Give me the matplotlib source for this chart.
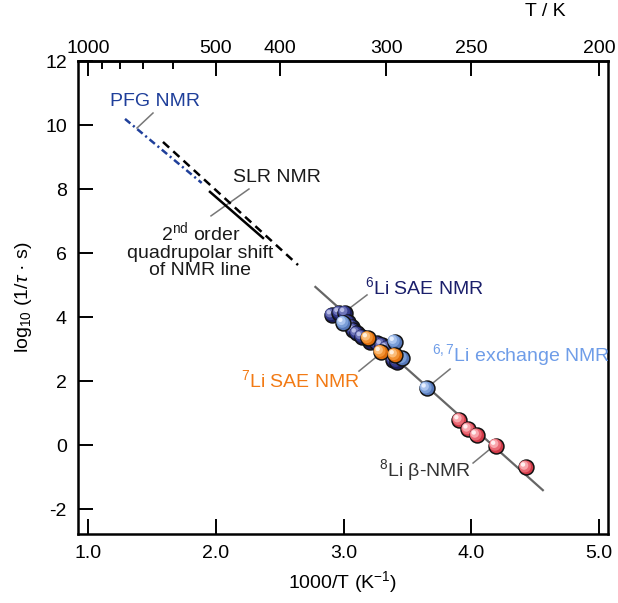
import numpy as np
import matplotlib
matplotlib.use('Agg')
import matplotlib.pyplot as plt
from matplotlib.ticker import FixedLocator
from matplotlib.transforms import offset_copy

plt.rcParams['font.family'] = ['Liberation Sans', 'DejaVu Sans']
plt.rcParams['mathtext.fontset'] = 'custom'
plt.rcParams['mathtext.rm'] = 'Liberation Sans'
plt.rcParams['mathtext.it'] = 'Liberation Sans:italic'
plt.rcParams['lines.scale_dashes'] = False
plt.rcParams['axes.unicode_minus'] = False

# Data (x = 1000/T, y = log10(1/tau s))
navy_x = [2.908, 2.967, 3.012, 3.035, 3.064, 3.077, 3.103, 3.142, 3.207,
          3.259, 3.298, 3.337, 3.389, 3.416]
navy_y = [4.06, 4.13, 4.13, 3.84, 3.70, 3.59, 3.49, 3.38, 3.23,
          3.18, 3.13, 3.03, 2.66, 2.60]
lblue_x = [2.998, 3.40, 3.455, 3.65]
lblue_y = [3.82, 3.23, 2.71, 1.77]
orange_x = [3.19, 3.29, 3.40]
orange_y = [3.34, 2.91, 2.81]
red_x = [3.906, 3.977, 4.042, 4.194, 4.428]
red_y = [0.78, 0.49, 0.30, -0.02, -0.70]

fit_x = [2.78, 4.56]
fit_y = [4.94, -1.41]
slr_x = [1.587, 2.644]
slr_y = [9.47, 5.625]
quad_x = [1.955, 2.37]
quad_y = [7.91, 6.47]
pfg_x = [1.29, 1.89]
pfg_y = [10.19, 8.19]

top_major = [1000, 500, 400, 300, 250, 200]
top_minor = [900, 800, 700, 600]

fig = plt.figure(figsize=(6.18, 6.03), dpi=100)
ax = fig.add_axes([78/618, 1 - 534/603, 530/618, 473/603])

ax.plot(fit_x, fit_y, color='#666666', lw=1.6, zorder=2)
ax.plot(slr_x, slr_y, color='black', lw=1.8, dashes=(6, 4), zorder=2)
ax.plot(quad_x, quad_y, color='black', lw=1.8, zorder=2)
ax.plot(pfg_x, pfg_y, color='#1f3f9a', lw=1.8, dashes=(5, 2.5, 1.5, 2.5), zorder=2)

# leader lines
leaders = [
    ([1.509, 1.384], [10.375, 9.906]),
    ([2.26, 1.963], [8.0, 7.16]),
    ([3.184, 3.01], [4.69, 4.16]),
    ([3.121, 3.247], [2.31, 2.72]),
    ([3.834, 3.70], [2.375, 1.94]),
    ([4.014, 4.147], [-0.5625, -0.125]),
]
for lx, ly in leaders:
    ax.plot(lx, ly, color='#777777', lw=1.1, zorder=1.5)

z = [3]


def balls(xs, ys, shades):
    for x, y in zip(xs, ys):
        ax.scatter([x], [y], s=115, color=shades[0], edgecolors='#111111',
                   linewidths=1.1, zorder=z[0])
        z[0] += 0.01
        for k, (sz, c) in enumerate([(75, shades[1]), (38, shades[2]), (10, shades[3])]):
            tr = offset_copy(ax.transData, fig=fig, x=-0.7 * (k + 1), y=0.7 * (k + 1),
                             units='points')
            ax.scatter([x], [y], s=sz, color=c, edgecolors='none', zorder=z[0],
                       transform=tr)
            z[0] += 0.01


balls(navy_x, navy_y, ['#1b1e5a', '#343a8a', '#6e74b8', '#b8bce6'])
balls(lblue_x, lblue_y, ['#5577b8', '#7a9ed8', '#a9c3ee', '#e6efff'])
balls(orange_x, orange_y, ['#dd6d0c', '#f39334', '#fbbd79', '#fff0dc'])
balls(red_x, red_y, ['#d03a48', '#ea6a75', '#f9a8ae', '#fff0f0'])

fs = 14
ax.text(1.524, 10.72, 'PFG NMR', color='#1f3f9a', fontsize=fs, ha='center', va='center')
ax.text(2.48, 8.375, 'SLR NMR', color='#1a1a1a', fontsize=fs, ha='center', va='center')
ax.text(1.88, 6.1, '2$^{\\rm nd}$ order\nquadrupolar shift\nof NMR line', color='#1a1a1a',
        fontsize=fs, ha='center', va='center', linespacing=1.05)
ax.text(3.63, 4.94, '$^{6}$Li SAE NMR', color='#1b1f6b', fontsize=fs, ha='center', va='center')
ax.text(2.66, 2.03, '$^{7}$Li SAE NMR', color='#f27a14', fontsize=fs, ha='center', va='center')
ax.text(4.39, 2.81, '$^{6,7}$Li exchange NMR', color='#6f9de8', fontsize=fs, ha='center', va='center')
ax.text(3.64, -0.78, '$^{8}$Li \u03b2-NMR', color='#333333', fontsize=fs, ha='center', va='center')

ax.set_xlim(0.922, 5.07)
ax.set_ylim(-2.78, 12)
ax.set_xticks([1, 2, 3, 4, 5])
ax.set_xticklabels(['1.0', '2.0', '3.0', '4.0', '5.0'])
ax.set_yticks(range(-2, 13, 2))
ax.tick_params(direction='in', length=11, width=1.4, labelsize=fs, pad=8,
               right=False, top=False)
for sp in ax.spines.values():
    sp.set_linewidth(1.8)

ax.set_xlabel('1000/T (K$^{-1}$)', fontsize=fs, labelpad=5)
ax.set_ylabel('log$_{10}$ (1/$\\tau$ \u00b7 s)', fontsize=fs, labelpad=8)


def inv(v):
    v = np.asarray(v, dtype=float)
    with np.errstate(divide='ignore'):
        return 1000.0 / v


sec = ax.secondary_xaxis('top', functions=(inv, inv))
sec.set_xticks(top_major)
sec.set_xticklabels([str(t) for t in top_major])
sec.xaxis.set_minor_locator(FixedLocator(top_minor))
sec.tick_params(which='major', direction='in', length=11, width=1.4, labelsize=fs, pad=3)
sec.tick_params(which='minor', direction='in', length=6, width=1.4)
sec.spines['top'].set_linewidth(1.8)
fig.text(545/618, 1 - 12/603, 'T / K', fontsize=fs, ha='center', va='center')

fig.savefig('out.png', dpi=100)
